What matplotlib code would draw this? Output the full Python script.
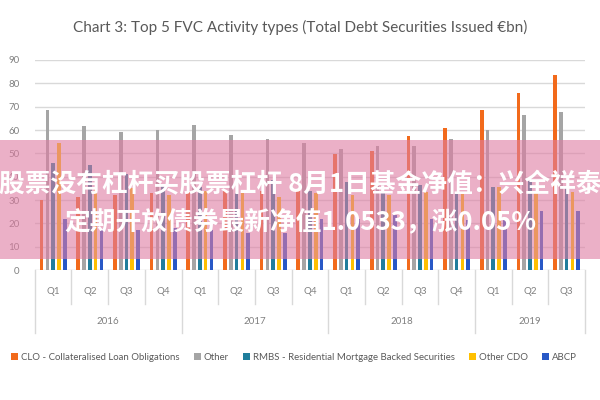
import numpy as np
import matplotlib.pyplot as plt
from matplotlib.patches import Rectangle
from matplotlib.lines import Line2D
import matplotlib.transforms as mtransforms

plt.rcParams['font.family'] = ['Lato', 'DejaVu Sans']

quarters = ['Q1', 'Q2', 'Q3', 'Q4', 'Q1', 'Q2', 'Q3', 'Q4',
            'Q1', 'Q2', 'Q3', 'Q4', 'Q1', 'Q2', 'Q3']
years = ['2016', '2017', '2018', '2019']
year_len = [4, 4, 4, 3]

clo = [30, 31.5, 32, 33, 33.5, 34, 34, 34, 49.5, 51, 57.5, 61, 68.5, 76, 83.5]
other = [68.5, 61.5, 59, 60, 62, 58, 56, 54.5, 52, 53, 53, 56, 60, 66.5, 67.5]
rmbs = [46, 45, 41, 36.5, 35.5, 33, 38.5, 34, 37.5, 34, 36.5, 33, 35.5, 38, 35.5]
other_cdo = [54.5, 35, 35, 32, 34, 33.5, 31.5, 33, 32, 32, 33.5, 33, 35.5, 33.5, 33.5]
abcp = [22, 17, 17, 18, 17, 16, 16, 22, 22, 23.5, 22, 21.5, 21.5, 25.5, 25.5]

series = [clo, other, rmbs, other_cdo, abcp]
names = ['CLO - Collateralised Loan Obligations', 'Other',
         'RMBS - Residential Mortgage Backed Securities', 'Other CDO', 'ABCP']
colors = ['#F26A1B', '#A5A5A5', '#1F7E9C', '#FFC000', '#2858C6']

fig = plt.figure(figsize=(6, 4), dpi=100)
ax = fig.add_axes([0.058, 0.325, 0.917, 0.525])

x = np.arange(len(quarters))
w = 0.1
step = 0.158
for k, (vals, nm, c) in enumerate(zip(series, names, colors)):
    ax.bar(x + (k - 2) * step, vals, width=w, color=c, label=nm, zorder=3)

ax.set_xlim(-0.5, len(quarters) - 0.5)
ax.set_ylim(0, 90)
ax.set_yticks(range(0, 91, 10))
ax.yaxis.grid(True, color='#D9D9D9', linewidth=1)
ax.set_axisbelow(True)
for s in ax.spines.values():
    s.set_visible(False)
ax.tick_params(axis='y', length=0, labelsize=7, labelcolor='#808080', pad=11)
ax.set_xticks([])

# two-level category axis
trans = mtransforms.blended_transform_factory(ax.transData, ax.transAxes)
for i, q in enumerate(quarters):
    ax.text(i, -0.1, q, transform=trans, ha='center', va='center',
            fontsize=7, color='#808080')
bounds = np.cumsum([0] + year_len) - 0.5
for b in np.arange(-0.5, len(quarters), 1.0):
    long_line = np.any(np.isclose(bounds, b))
    y1 = -0.3 if long_line else -0.16
    ax.add_line(Line2D([b, b], [0, y1], transform=trans, color='#D9D9D9',
                       linewidth=1, clip_on=False))
for j, yr in enumerate(years):
    cx = (bounds[j] + bounds[j + 1]) / 2
    ax.text(cx, -0.245, yr, transform=trans, ha='center', va='center',
            fontsize=7, color='#808080')

fig.text(0.5, 0.932, 'Chart 3: Top 5 FVC Activity types (Total Debt Securities Issued \u20acbn)',
         ha='center', va='center', fontsize=11, color='#595959')

fig.legend(loc='center', bbox_to_anchor=(0.49, 0.107), ncol=5, frameon=False,
           fontsize=6.9, handlelength=0.7, handleheight=0.7, handletextpad=0.3,
           columnspacing=1.5, labelcolor='#595959')

# pink banner overlay
band = Rectangle((0, 0.3525), 1, 0.2975, transform=fig.transFigure,
                 facecolor='#DF7CA2', alpha=0.6, edgecolor='none', zorder=5)
fig.add_artist(band)
fig.text(0.5, 0.537, '股票没有杠杆买股票杠杆 8月1日基金净值：兴全祥泰',
         ha='center', va='center', fontsize=18.5, color='white', weight='bold',
         family=['Noto Sans CJK SC', 'DejaVu Sans'], zorder=6)
fig.text(0.5, 0.445, '定期开放债券最新净值1.0533，涨0.05%',
         ha='center', va='center', fontsize=18.5, color='white', weight='bold',
         family=['Noto Sans CJK SC', 'DejaVu Sans'], zorder=6)

fig.savefig('out.png', dpi=100)
